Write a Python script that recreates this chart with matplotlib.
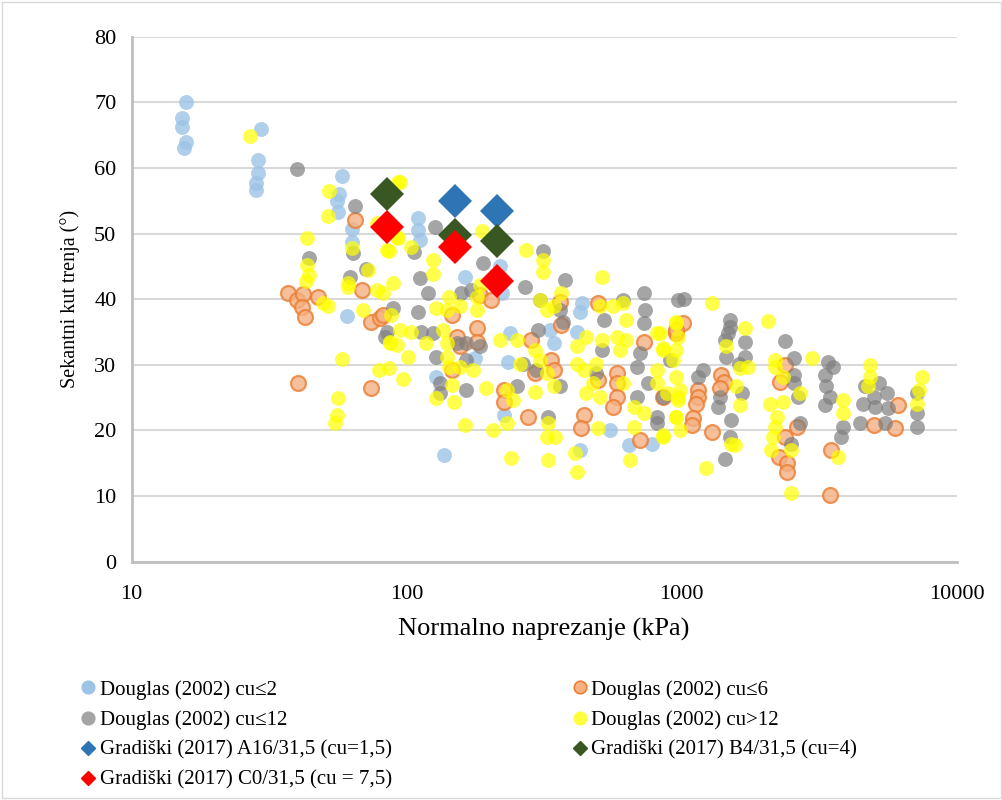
import numpy as np
import matplotlib.pyplot as plt
from matplotlib.lines import Line2D
from matplotlib.patches import Rectangle

plt.rcParams['font.family'] = ['Liberation Serif', 'DejaVu Serif']

# Douglas (2002) - (normalno naprezanje kPa, sekantni kut trenja °)
cu2_pts = [
    (15.8, 70.0), (15.3, 67.6), (15.3, 66.2), (15.8, 63.9), (15.5, 63.0),
    (29.5, 66.0), (28.9, 61.2), (28.9, 59.2), (28.4, 57.7), (28.4, 56.7),
    (58.3, 58.7), (56.9, 56.0), (55.7, 54.9), (56.4, 53.3), (63, 50.7),
    (63, 48.7), (60.9, 37.5), (110, 52.3), (110, 50.5), (112, 49.0),
    (163, 43.4), (218, 45.0), (222, 40.9), (433, 39.4), (427, 38.1),
    (332, 35.3), (342, 33.3), (418, 35.0), (234, 30.5), (237, 34.8),
    (177, 31.0), (128, 28.2), (226, 22.4), (137, 16.3), (549, 20.1),
    (641, 17.8), (780, 18.0), (427, 17.0),
]

cu6_pts = [
    (64.9, 52.1), (37.1, 40.9), (39.8, 39.9), (41.8, 40.8), (41.7, 38.8),
    (42.6, 37.3), (47.6, 40.4), (40.3, 27.3), (74, 26.4), (69, 41.4),
    (74, 36.6), (80, 37.1), (82, 37.6), (146, 37.6), (152, 34.3),
    (180, 35.6), (180, 33.5), (156, 32.8), (146, 29.2), (185, 40.6),
    (203, 39.9), (284, 33.8), (336, 30.7), (342, 29.2), (293, 28.7),
    (226, 26.2), (226, 24.4), (277, 22.1), (440, 22.4), (432, 20.3),
    (365, 36.1), (361, 39.6), (497, 39.4), (497, 27.7), (580, 28.7),
    (580, 27.2), (580, 25.1), (565, 23.6), (728, 33.5), (706, 18.5),
    (956, 34.8), (858, 25.1), (1013, 36.3), (956, 35.3), (1390, 28.5),
    (1420, 27.4), (1377, 26.4), (1150, 26.2), (1150, 25.1), (1130, 24.1),
    (1100, 21.9), (1090, 20.8), (1285, 19.8), (2370, 30.0), (2278, 27.4),
    (2370, 19.0), (2250, 16.0), (2420, 15.0), (2420, 13.7), (2630, 20.6),
    (3480, 17.0), (3461, 10.1), (5000, 20.8), (5966, 20.3), (6140, 23.9),
]

cu12_pts = [
    (39.8, 59.8), (64.9, 54.2), (44.2, 46.3), (63.6, 47.1), (71.3, 44.6),
    (62.2, 43.4), (83.4, 34.3), (89, 38.6), (127, 51.0), (106, 47.2),
    (112, 43.2), (120, 40.9), (110, 38.0), (113, 35.0), (125, 34.8),
    (84.6, 35.0), (128, 31.2), (132, 27.2), (132, 25.7), (165, 30.7),
    (165, 26.2), (158, 40.9), (172, 41.4), (190, 45.5), (269, 41.9),
    (314, 47.4), (377, 42.9), (305, 39.9), (300, 35.3), (361, 38.4),
    (371, 36.6), (265, 30.2), (296, 29.2), (251, 26.7), (361, 26.7),
    (327, 22.1), (614, 39.9), (728, 40.9), (736, 38.4), (728, 36.3),
    (706, 31.8), (687, 29.7), (752, 27.2), (687, 25.1), (813, 22.1),
    (813, 21.1), (970, 39.9), (513, 32.3), (490, 28.7), (520, 36.8),
    (152, 33.3), (185, 32.8), (165, 33.3), (1020, 40.0), (1498, 36.8),
    (1498, 35.8), (1470, 34.8), (1437, 33.8), (1698, 33.5), (1698, 31.2),
    (1450, 31.2), (1610, 30.2), (1200, 29.2), (1150, 28.2), (1377, 25.1),
    (1350, 23.6), (1510, 21.6), (1498, 19.0), (1437, 15.6), (2370, 33.7),
    (2560, 31.0), (2560, 28.5), (2560, 27.2), (2640, 25.1), (2690, 21.1),
    (2500, 18.0), (3400, 30.5), (3560, 29.7), (3320, 28.5), (3360, 26.7),
    (3461, 25.1), (3320, 23.9), (3850, 20.6), (3800, 19.0), (4640, 26.7),
    (5200, 27.2), (5000, 25.1), (4560, 24.1), (5050, 23.6), (4450, 21.1),
    (5570, 25.7), (5650, 23.4), (5490, 21.1), (7170, 25.7), (7170, 22.6),
    (7170, 20.6), (907, 30.7), (858, 25.1), (1660, 25.7),
]

cu12plus_pts = [
    (27, 64.8), (52.3, 56.5), (51.6, 52.7), (43.5, 49.3), (43.3, 45.2),
    (44.2, 43.7), (42.9, 42.7), (63, 47.8), (72.3, 44.5), (61.1, 42.5),
    (85, 47.5), (77.7, 51.6), (89, 42.5), (92, 49.5), (93, 57.9),
    (49.8, 39.4), (51.8, 39.0), (58, 30.9), (56.5, 25.0), (55.6, 22.4),
    (55, 21.1), (79.5, 29.2), (86.5, 29.5), (69.2, 38.4), (61.2, 41.9),
    (77.7, 41.4), (86.8, 33.5), (92, 33.0), (94.6, 57.9), (188, 50.4),
    (93, 49.3), (86, 47.4), (104, 48.0), (125, 46.0), (125, 43.9),
    (272, 47.5), (314, 46.0), (314, 44.2), (513, 43.4), (82, 40.9),
    (143, 40.4), (185, 42.2), (128, 38.6), (140, 38.4), (156, 38.9),
    (180, 38.4), (88, 37.6), (94.6, 35.3), (104, 35.0), (118, 33.3),
    (87, 33.3), (101, 31.2), (136, 35.3), (140, 33.3), (140, 31.2),
    (143, 29.7), (156, 29.7), (174, 29.2), (97, 27.8), (146, 26.9),
    (128, 24.9), (148, 24.4), (163, 20.8), (195, 26.4), (218, 33.8),
    (251, 33.8), (258, 30.2), (293, 32.3), (305, 30.7), (323, 28.7),
    (342, 26.7), (293, 25.9), (231, 26.2), (244, 24.6), (206, 20.1),
    (231, 21.1), (240, 15.8), (327, 15.5), (327, 21.1), (323, 19.0),
    (346, 19.0), (418, 32.8), (418, 30.2), (450, 34.3), (440, 29.2),
    (490, 30.2), (477, 27.2), (450, 25.7), (505, 38.9), (565, 38.9),
    (614, 39.4), (630, 36.8), (580, 34.3), (630, 33.8), (597, 32.3),
    (513, 33.8), (505, 25.1), (614, 27.2), (670, 23.6), (728, 22.6),
    (670, 20.6), (813, 34.8), (858, 32.5), (813, 29.2), (813, 27.2),
    (882, 25.7), (858, 19.0), (956, 36.3), (956, 32.3), (956, 28.2),
    (970, 25.1), (956, 22.1), (649, 15.5), (418, 13.7), (409, 16.5),
    (497, 20.3), (305, 39.9), (323, 38.4), (365, 40.9), (342, 38.9),
    (180, 40.4), (1285, 39.4), (2060, 36.7), (2970, 31.1), (1698, 35.6),
    (1450, 32.8), (1629, 29.5), (1745, 29.7), (2184, 30.7), (2184, 29.7),
    (2340, 28.2), (2693, 25.7), (2094, 24.1), (2340, 24.4), (2220, 22.1),
    (2184, 20.6), (2150, 19.0), (2110, 17.0), (2500, 17.0), (2500, 10.4),
    (1230, 14.2), (1510, 18.0), (1562, 17.8), (1629, 23.9), (1580, 26.7),
    (986, 26.2), (970, 24.6), (956, 22.1), (986, 20.1), (858, 19.3),
    (834, 34.8), (858, 32.3), (930, 30.7), (956, 36.6), (970, 34.3),
    (3850, 24.6), (3850, 22.6), (3700, 16.0), (4840, 30.0), (4840, 28.2),
    (4750, 26.7), (7170, 24.1), (7450, 28.2), (7300, 26.2),
]

# Gradiški (2017)
grad_sigma = [85, 150, 213]
grad_A16 = [None, 55.0, 53.5]
grad_B4 = [56.1, 49.8, 48.9]
grad_C0 = [51.0, 47.9, 42.7]

fig = plt.figure(figsize=(10.03, 8.0), dpi=100)
fig.add_artist(Rectangle((0.002, 0.002), 0.996, 0.996, transform=fig.transFigure,
                         fill=False, edgecolor='#D9D9D9', linewidth=1))
ax = fig.add_axes([0.1313, 0.2979, 0.8225, 0.6562])

s_pt = 115
def scat(pts, **kw):
    a = np.array(pts, dtype=float)
    ax.scatter(a[:, 0], a[:, 1], s=s_pt, **kw)

scat(cu2_pts, color='#9DC3E6', alpha=0.8, linewidths=0, zorder=3)
scat(cu6_pts, facecolor='#F4B183', edgecolor='#ED7D31', alpha=0.8, linewidths=1.6, zorder=3)
scat(cu12_pts, color='#7F7F7F', alpha=0.7, linewidths=0, zorder=3)
scat(cu12plus_pts, color='#FFFF00', alpha=0.7, linewidths=0, zorder=3)

ms = 17
ax.plot(grad_sigma[1:], grad_A16[1:], 'D', color='#2E75B6', markersize=ms, markeredgewidth=0, zorder=5)
ax.plot(grad_sigma, grad_B4, 'D', color='#385723', markersize=ms, markeredgewidth=0, zorder=5)
ax.plot(grad_sigma, grad_C0, 'D', color='#FF0000', markersize=ms, markeredgewidth=0, zorder=5)

ax.set_xscale('log')
ax.set_xlim(10, 10000)
ax.set_ylim(0, 80)
ax.set_yticks(np.arange(0, 81, 10))
ax.set_xticks([10, 100, 1000, 10000])
ax.set_xticklabels(['10', '100', '1000', '10000'])
ax.xaxis.set_minor_locator(plt.NullLocator())
ax.tick_params(axis='both', length=0, labelsize=16)
ax.tick_params(axis='x', pad=17)
ax.tick_params(axis='y', pad=11)
ax.yaxis.grid(True, color='#D9D9D9', linewidth=1.5)
ax.set_axisbelow(True)
for sp in ['top', 'right']:
    ax.spines[sp].set_visible(False)
for sp in ['left', 'bottom']:
    ax.spines[sp].set_color('#BFBFBF')
    ax.spines[sp].set_linewidth(2)

ax.set_xlabel('Normalno naprezanje (kPa)', fontsize=19, labelpad=10)
ax.set_ylabel('Sekantni kut trenja (°)', fontsize=14.5, labelpad=10)

def h_circ(face, edge=None):
    return Line2D([], [], linestyle='none', marker='o', markersize=9,
                  markerfacecolor=face, markeredgecolor=edge or face, markeredgewidth=1.2)

def h_diam(c):
    return Line2D([], [], linestyle='none', marker='D', markersize=7.5,
                  markerfacecolor=c, markeredgecolor=c)

left_h = [h_circ('#9DC3E6'), h_circ('#A5A5A5'), h_diam('#2E75B6'), h_diam('#FF0000')]
left_l = ['Douglas (2002) cu≤2', 'Douglas (2002) cu≤12',
          'Gradiški (2017) A16/31,5 (cu=1,5)', 'Gradiški (2017) C0/31,5 (cu = 7,5)']
right_h = [h_circ('#F4B183', '#ED7D31'), h_circ('#FFFF40'), h_diam('#385723')]
right_l = ['Douglas (2002) cu≤6', 'Douglas (2002) cu>12', 'Gradiški (2017) B4/31,5 (cu=4)']

kw = dict(frameon=False, fontsize=15, handlelength=0.6, handletextpad=0.25,
          labelspacing=0.5, borderaxespad=0, borderpad=0, loc='upper left')
fig.legend(left_h, left_l, bbox_to_anchor=(0.082, 0.15), **kw)
fig.legend(right_h, right_l, bbox_to_anchor=(0.572, 0.15), **kw)

fig.savefig('out.png', dpi=100)
